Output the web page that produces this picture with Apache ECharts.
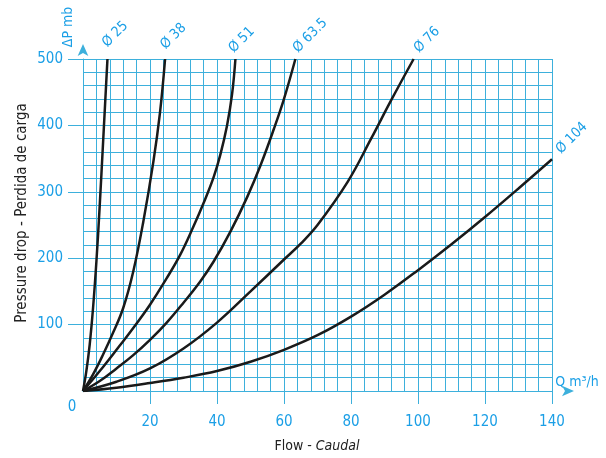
<!DOCTYPE html>
<html><head><meta charset="utf-8">
<script src="https://cdn.jsdelivr.net/npm/echarts@6/dist/echarts.min.js"></script>
<style>html,body{margin:0;padding:0;background:#fff}#c{width:606px;height:458px}</style>
</head><body><div id="c"></div>
<script>
// ---- data ----
const pipeNames = ['Ø 25', 'Ø 38', 'Ø 51', 'Ø 63.5', 'Ø 76', 'Ø 104'];
const d25 = [[0,0],[1,30],[2,70],[3,125],[4,195],[5,280],[6,375],[7.3,500]];
const d38 = [[0,0],[3,25],[6,55],[9,88],[12,125],[15,180],[18,255],[21,345],[23,420],[24.5,500]];
const d51 = [[0,0],[5,30],[10,62],[15,95],[20,130],[25,170],[29,205],[33,248],[36,283],[39,322],[41,356],[43,400],[44.5,447],[45.5,500]];
const d635 = [[0,0],[5,15],[10,34],[15,54],[20,77],[25,103],[30,133],[35,165],[39,195],[44,240],[49,292],[53,340],[57,395],[60,440],[63.4,500]];
const d76 = [[0,0],[10,14],[20,34],[30,64],[40,103],[50,150],[60,198],[65,222],[70,250],[79,315],[86,380],[92,438],[98.7,500]];
const d104 = [[0,0],[10,5],[20,12],[30,20],[40,30],[50,44],[60,62],[70,84],[80,112],[90,145],[100,182],[110,221],[120,262],[130,305],[140,349]];
const curves = [d25, d38, d51, d635, d76, d104];
const xTickValues = [20, 40, 60, 80, 100, 120, 140];
const xTopTickValues = [0, 20, 40, 60, 80, 100, 120, 140];
const yTickValues = [100, 200, 300, 400, 500];
const yRightTickValues = [0, 100, 200, 300, 400, 500];
const xTitle = 'Flow - ';
const xTitleItalic = 'Caudal';
const yTitle = 'Pressure drop - Perdida de carga';
const yUnit = 'ΔP mb';
const xUnit = 'Q m³/h';
const zeroLabel = '0';

// ---- styles ----
const FONT = "'Liberation Sans Narrow','DejaVu Sans Condensed','Liberation Sans',sans-serif";
const BLUE = '#1b9fe6';
const GRID = '#3db0dc';
const labelOffsets = [[8,-5],[7,-3],[3,-2],[6,1],[8,3],[10,6]];
const tickStyle = {color: GRID, width: 1};

const chart = echarts.init(document.getElementById('c'), null, {renderer: 'canvas'});
const option = {
  animation: false,
  grid: {left: 83, right: 54, top: 59, bottom: 67, containLabel: false},
  xAxis: [{
    type: 'value', min: 0, max: 140, interval: 20, position: 'bottom',
    axisLine: {show: true, onZero: false, lineStyle: tickStyle,
      symbol: ['none', 'arrow'], symbolSize: [8, 12], symbolOffset: [0, 22]},
    axisTick: {show: true, customValues: xTickValues, length: 13, lineStyle: tickStyle},
    axisLabel: {show: true, customValues: xTickValues, margin: 24, color: BLUE, fontFamily: FONT, fontSize: 15},
    splitLine: {show: false}
  }, {
    type: 'value', min: 0, max: 140, interval: 20, position: 'top',
    axisLine: {show: false},
    axisTick: {show: true, customValues: xTopTickValues, length: 14, lineStyle: tickStyle},
    axisLabel: {show: false},
    splitLine: {show: false}
  }, {
    type: 'value', min: 0, max: 140, interval: 4, position: 'top',
    axisLine: {show: false}, axisTick: {show: false}, axisLabel: {show: false},
    splitLine: {show: true, lineStyle: tickStyle}
  }],
  yAxis: [{
    type: 'value', min: 0, max: 500, interval: 100, position: 'left',
    axisLine: {show: true, onZero: false, lineStyle: tickStyle,
      symbol: ['none', 'arrow'], symbolSize: [8, 12], symbolOffset: [0, 15]},
    axisTick: {show: true, customValues: yTickValues, length: 15, lineStyle: tickStyle},
    axisLabel: {show: true, customValues: yTickValues, margin: 20, color: BLUE, fontFamily: FONT, fontSize: 15},
    splitLine: {show: false}
  }, {
    type: 'value', min: 0, max: 500, interval: 100, position: 'right',
    axisLine: {show: false},
    axisTick: {show: true, customValues: yRightTickValues, length: 13, lineStyle: tickStyle},
    axisLabel: {show: false},
    splitLine: {show: false}
  }, {
    type: 'value', min: 0, max: 500, interval: 20, position: 'right',
    axisLine: {show: false}, axisTick: {show: false}, axisLabel: {show: false},
    splitLine: {show: true, lineStyle: tickStyle}
  }],
  series: curves.map((d, i) => ({
    type: 'line', name: pipeNames[i], data: d, xAxisIndex: 0, yAxisIndex: 0,
    showSymbol: false, smooth: 0.4,
    lineStyle: {color: '#1a1a1a', width: 2.5},
    z: 5,
    markPoint: {
      symbol: 'circle', symbolSize: 0, silent: true,
      data: [{coord: d[d.length - 1],
        label: {show: true, formatter: pipeNames[i], position: [0, 0], offset: labelOffsets[i],
          rotate: 45, align: 'left', verticalAlign: 'bottom',
          color: BLUE, fontFamily: FONT, fontSize: 14}}]
    }
  })),
  graphic: [
    {type: 'text', x: 22, y: 213, rotation: Math.PI / 2,
      style: {text: yTitle, fill: '#222', font: '15px ' + FONT, align: 'center', verticalAlign: 'middle'}},
    {type: 'text', x: 317, y: 446,
      style: {text: xTitle + '{i|' + xTitleItalic + '}', fill: '#222', font: '14px ' + FONT, align: 'center', verticalAlign: 'middle',
        rich: {i: {fontStyle: 'italic', fill: '#222', font: 'italic 14px ' + FONT}}}},
    {type: 'text', x: 68, y: 27, rotation: Math.PI / 2,
      style: {text: yUnit, fill: BLUE, font: '14px ' + FONT, align: 'center', verticalAlign: 'middle'}},
    {type: 'text', x: 577, y: 382,
      style: {text: xUnit, fill: BLUE, font: '14px ' + FONT, align: 'center', verticalAlign: 'middle'}},
    {type: 'text', x: 72, y: 407,
      style: {text: zeroLabel, fill: BLUE, font: '15px ' + FONT, align: 'center', verticalAlign: 'middle'}}
  ]
};
chart.setOption(option);
</script>
</body></html>
